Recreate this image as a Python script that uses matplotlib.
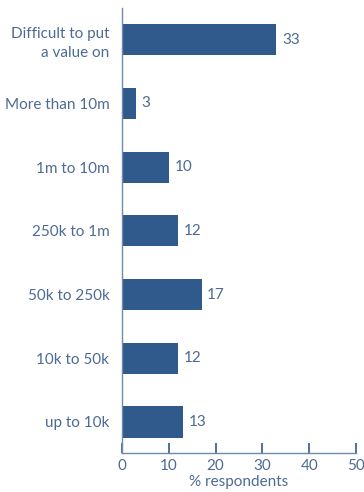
import matplotlib.pyplot as plt

categories = ['up to 10k', '10k to 50k', '50k to 250k', '250k to 1m',
              '1m to 10m', 'More than 10m', 'Difficult to put\na value on']
values = [13, 12, 17, 12, 10, 3, 33]

bar_color = '#2f5a8b'
text_color = '#4d6b94'

plt.rcParams['font.family'] = ['Lato', 'DejaVu Sans']

fig = plt.figure(figsize=(3.64, 4.92), dpi=100)
ax = fig.add_axes([0.335, 0.079, 0.643, 0.905])

ax.barh(range(len(values)), values, height=0.49, color=bar_color)
for i, v in enumerate(values):
    ax.text(v + 1.2, i, str(v), va='center', ha='left', fontsize=11, color=text_color)

ax.set_xlim(0, 50)
ax.set_ylim(-0.49, 6.5)
ax.set_xticks([0, 10, 20, 30, 40, 50])
ax.set_yticks(range(len(categories)))
labels = ax.set_yticklabels(categories, fontsize=11, color=text_color, linespacing=1.4)
for lab in labels:
    lab.set_multialignment('right')
ax.tick_params(axis='y', length=0, pad=9)
ax.tick_params(axis='x', direction='in', length=7, width=1.2, color='#2f5a8b',
               labelsize=11, labelcolor=text_color, pad=4)
ax.set_xlabel('% respondents', fontsize=11, color=text_color, labelpad=2)

for s in ['top', 'right']:
    ax.spines[s].set_visible(False)
for s in ['left', 'bottom']:
    ax.spines[s].set_color('#7089ad')
    ax.spines[s].set_linewidth(1)

fig.savefig('out.png', dpi=100)
